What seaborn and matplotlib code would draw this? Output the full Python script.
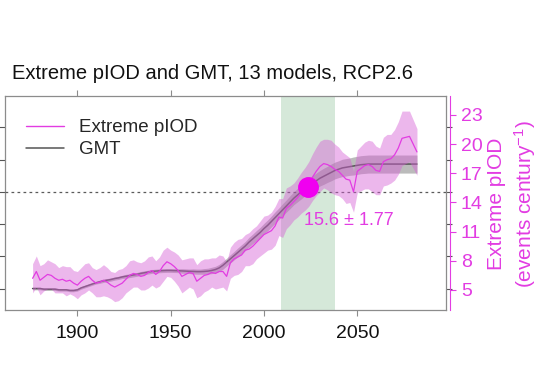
import seaborn as sns
import matplotlib.pyplot as plt
from matplotlib.lines import Line2D
import numpy as np

# Datos (años cada 2, 1876-2082)
years = list(range(1876, 2083, 2))

piod = [6.2, 6.9, 6.0, 6.3, 6.6, 6.5, 6.2, 6.0, 6.1, 5.9, 6.0, 5.7, 5.5,
        5.9, 6.2, 6.4, 6.0, 5.7, 5.8, 6.0, 5.8, 5.5, 5.3, 5.5, 5.7, 6.1, 6.5,
        6.7, 6.6, 6.4, 6.5, 6.8, 7.0, 6.6, 6.9, 7.5, 7.9, 7.7,
        7.4, 7.0, 6.4, 6.6, 6.8, 6.7, 5.9, 6.2, 6.5, 6.6, 6.8, 6.7, 6.9,
        6.9, 6.4, 7.8, 8.2, 8.4, 8.6, 9.1, 9.2, 9.5, 9.9, 10.3, 10.7,
        10.9, 11.1, 11.6, 12.5, 12.4, 13.4, 13.7, 14.1, 14.5, 15.0, 15.4, 15.9,
        16.6, 17.2, 17.7, 18.0, 17.9, 17.7, 17.4, 17.2, 16.8, 16.4, 16.3, 15.1,
        17.2, 17.5, 17.8, 17.9, 17.7, 17.3, 17.2, 18.2, 18.4, 18.5, 18.9, 19.6,
        20.6, 20.7, 20.8, 20.0, 19.2]

piod_sd = [1.5, 1.6, 1.5, 1.4, 1.5, 1.4, 1.5, 1.3, 1.4, 1.5, 1.4, 1.3, 1.4,
           1.4, 1.5, 1.4, 1.3, 1.4, 1.5, 1.6, 1.5, 1.4, 1.5, 1.6, 1.5, 1.4,
           1.5, 1.4, 1.3, 1.4, 1.5, 1.6, 1.5, 1.4, 1.5, 1.6, 1.5, 1.4,
           1.5, 1.6, 1.7, 1.6, 1.5, 1.6, 1.7, 1.8, 1.7, 1.6, 1.5, 1.6, 1.7,
           1.6, 1.5, 1.6, 1.7, 1.8, 1.7, 1.6, 1.7, 1.8, 1.7, 1.8, 1.9,
           1.8, 1.9, 2.0, 1.9, 2.0, 2.1, 2.0, 1.9, 2.0, 2.1, 2.2, 2.3, 2.4,
           2.5, 2.6, 2.5, 2.6, 2.7, 2.6, 2.5, 2.4, 2.5, 2.3, 2.1, 2.2,
           2.3, 2.4, 2.5, 2.6, 2.5, 2.4, 2.5, 2.6, 2.5, 2.6, 2.7, 2.8, 2.7,
           2.6, 2.5, 2.4]

gmt = [0.00, 0.00, 0.00, -0.01, -0.01, -0.01, -0.01, -0.02, -0.02, -0.02,
       -0.03, -0.03, -0.02, 0.01, 0.03, 0.05, 0.07, 0.09, 0.105, 0.12, 0.13,
       0.14, 0.155, 0.165, 0.18, 0.19, 0.20, 0.21, 0.22, 0.235, 0.245, 0.255,
       0.265, 0.27, 0.275, 0.278, 0.28, 0.28, 0.278, 0.276, 0.273, 0.27,
       0.267, 0.265, 0.262, 0.262, 0.265, 0.27, 0.28, 0.295, 0.32, 0.36,
       0.41, 0.46, 0.51, 0.56, 0.61, 0.66, 0.72, 0.77, 0.82, 0.87, 0.93,
       0.98, 1.04, 1.10, 1.16, 1.22, 1.28, 1.34, 1.40, 1.45, 1.50, 1.55,
       1.59, 1.63, 1.67, 1.71, 1.74, 1.77, 1.80, 1.83, 1.85, 1.87, 1.88,
       1.89, 1.90, 1.91, 1.92, 1.925, 1.93, 1.93, 1.93, 1.93, 1.93, 1.93,
       1.93, 1.93, 1.93, 1.93, 1.93, 1.93, 1.93, 1.93]

gmt_sd = [0.02] * 13 + \
         [0.02, 0.02, 0.02, 0.02, 0.02, 0.025, 0.025, 0.025, 0.025, 0.025,
          0.025, 0.025, 0.03, 0.03, 0.03, 0.03, 0.03, 0.03, 0.03, 0.03,
          0.03, 0.03, 0.03, 0.03, 0.03] + \
         [0.03, 0.03, 0.035, 0.035, 0.035, 0.04, 0.04, 0.04, 0.045, 0.045,
          0.05, 0.05, 0.055, 0.06, 0.06, 0.065, 0.065, 0.07, 0.07, 0.07,
          0.075, 0.075, 0.08, 0.08, 0.08] + \
         [0.085, 0.085, 0.09, 0.09, 0.095, 0.095, 0.10, 0.10, 0.105, 0.11,
          0.11, 0.115, 0.115, 0.12, 0.12, 0.125, 0.125, 0.13, 0.13, 0.13,
          0.135, 0.135, 0.135, 0.14, 0.14] + [0.14] * 16

green_span = [2009, 2038]
cross_year = 2023.4
cross_value = 15.6
cross_sd = 1.77
threshold_gmt = 1.5

piod_ticks = [5, 8, 11, 14, 17, 20, 23]
gmt_ticks = [0, 0.5, 1.0, 1.5, 2.0, 2.5]
x_ticks = [1900, 1950, 2000, 2050]

PINK = '#e23ce2'
MAGENTA = '#f000f0'
GRAY = '#8c8c8c'

sns.set_style('white')
plt.rcParams['font.family'] = ['Liberation Sans', 'DejaVu Sans']
plt.rcParams['mathtext.fontset'] = 'custom'
plt.rcParams['mathtext.rm'] = 'Liberation Sans'
plt.rcParams['mathtext.it'] = 'Liberation Sans'

fig = plt.figure(figsize=(5.54, 3.71), dpi=100)
ax = fig.add_axes([0.009, 0.1644, 0.7955, 0.5768])
ax2 = ax.twinx()

# --- GMT (eje izquierdo, sin etiquetas)
ax.axvspan(green_span[0], green_span[1], color='#d5e8d9', lw=0, zorder=0)
g = np.array(gmt)
gs = np.array(gmt_sd)
ax.fill_between(years, g - gs, g + gs, color='#8f8f8f', alpha=0.6, lw=0, zorder=1)
sns.lineplot(x=years, y=gmt, ax=ax, color='#555555', lw=1.1, zorder=2)
ax.axhline(threshold_gmt, color='#5a5a5a', ls=(0, (2.2, 2.6)), lw=0.9, zorder=3)

ax.set_xlim(1861.2, 2097.4)
ax.set_ylim(-0.333, 2.985)
ax.set_xticks(x_ticks)
ax.set_yticks(gmt_ticks)
ax.set_yticklabels([])
ax.tick_params(axis='x', which='both', bottom=True, top=True, direction='out',
               length=4, width=0.8, color=GRAY, labelsize=14, pad=7,
               labelcolor='#111111')
ax.tick_params(axis='y', left=True, right=True, direction='out', length=4,
               width=0.8, color='#555555')
for s in ax.spines.values():
    s.set_color(GRAY)
    s.set_linewidth(0.9)
ax.grid(False)

# --- pIOD (eje derecho)
p = np.array(piod)
ps = np.array(piod_sd)
ax2.fill_between(years, p - ps, p + ps, color='#d660d6', alpha=0.45, lw=0, zorder=1)
sns.lineplot(x=years, y=piod, ax=ax2, color=PINK, lw=0.9, zorder=2)
ax2.plot([cross_year], [cross_value], 'o', color=MAGENTA, ms=14, zorder=5)
ax2.text(cross_year + 22, cross_value - 3.5, f'{cross_value} ± {cross_sd}',
         color=PINK, fontsize=13, ha='center', va='center')

ax2.set_ylim(2.94, 24.95)
ax2.set_yticks(piod_ticks)
ax2.tick_params(axis='y', right=True, direction='out', length=4, width=0.8,
                color=PINK, labelcolor=PINK, labelsize=14, pad=4)
ax2.spines['right'].set_color(PINK)
ax2.spines['right'].set_position(('outward', 3))
for side in ['left', 'top', 'bottom']:
    ax2.spines[side].set_visible(False)
ax2.set_ylabel('')
ax.set_ylabel('')
ax2.grid(False)

handles = [Line2D([], [], color=PINK, lw=1.0), Line2D([], [], color='#555555', lw=1.1)]
ax2.legend(handles, ['Extreme pIOD', 'GMT'], loc='upper left', frameon=False,
           fontsize=13.5, handlelength=2.0, handletextpad=0.8,
           bbox_to_anchor=(0.01, 0.97), labelspacing=0.25)

fig.text(0.0217, 0.803, 'Extreme pIOD and GMT, 13 models, RCP2.6',
         fontsize=14.5, ha='left', va='center', color='#111111')
fig.text(0.925, 0.45, 'Extreme pIOD\n(events century$^{-1}$)', rotation=90,
         color=PINK, fontsize=15, ha='center', va='center',
         multialignment='center', linespacing=1.3)

plt.savefig('out.png', dpi=100)
